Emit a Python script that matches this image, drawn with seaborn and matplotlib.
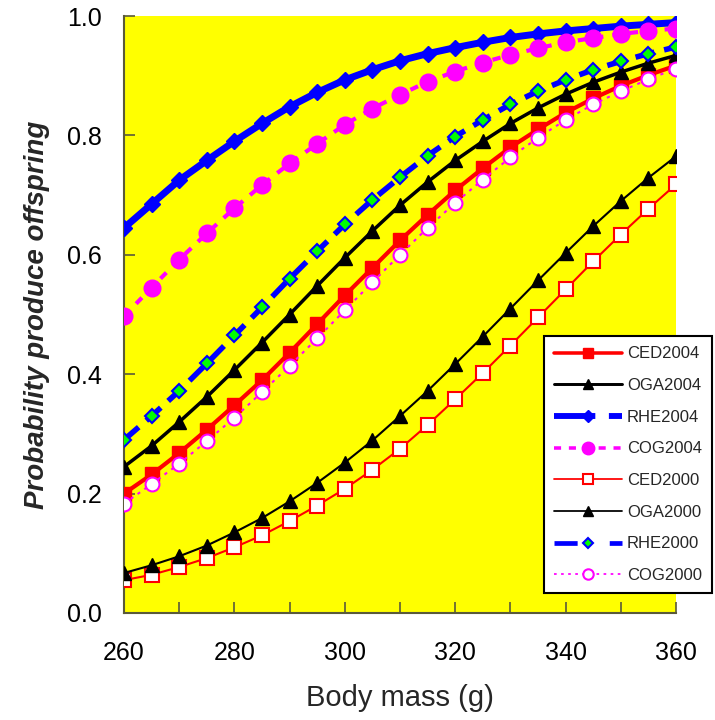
import numpy as np
import pandas as pd
import seaborn as sns
import matplotlib
matplotlib.use("Agg")
import matplotlib.pyplot as plt
from matplotlib.lines import Line2D

mass = [260, 265, 270, 275, 280, 285, 290, 295, 300, 305, 310,
        315, 320, 325, 330, 335, 340, 345, 350, 355, 360]

CED2004 = [0.200, 0.232, 0.268, 0.307, 0.348, 0.390, 0.436, 0.484, 0.532, 0.578, 0.624,
           0.667, 0.708, 0.745, 0.780, 0.810, 0.838, 0.862, 0.883, 0.901, 0.917]
OGA2004 = [0.245, 0.280, 0.320, 0.362, 0.407, 0.453, 0.500, 0.548, 0.595, 0.640, 0.683,
           0.722, 0.758, 0.790, 0.820, 0.846, 0.869, 0.889, 0.906, 0.921, 0.934]
RHE2004 = [0.645, 0.685, 0.725, 0.758, 0.790, 0.820, 0.848, 0.872, 0.893, 0.910, 0.925,
           0.937, 0.947, 0.956, 0.964, 0.970, 0.975, 0.979, 0.983, 0.986, 0.989]
COG2004 = [0.497, 0.545, 0.592, 0.636, 0.678, 0.717, 0.753, 0.786, 0.818, 0.845, 0.868,
           0.890, 0.907, 0.922, 0.935, 0.946, 0.956, 0.963, 0.970, 0.975, 0.979]
CED2000 = [0.055, 0.064, 0.077, 0.092, 0.110, 0.130, 0.154, 0.180, 0.208, 0.240, 0.275,
           0.315, 0.358, 0.402, 0.448, 0.495, 0.542, 0.589, 0.634, 0.677, 0.718]
OGA2000 = [0.067, 0.080, 0.095, 0.113, 0.135, 0.159, 0.187, 0.218, 0.252, 0.289, 0.330,
           0.372, 0.417, 0.463, 0.510, 0.557, 0.603, 0.648, 0.690, 0.729, 0.765]
RHE2000 = [0.290, 0.330, 0.372, 0.418, 0.465, 0.512, 0.560, 0.606, 0.651, 0.692, 0.730,
           0.766, 0.798, 0.826, 0.852, 0.874, 0.893, 0.910, 0.924, 0.937, 0.948]
COG2000 = [0.183, 0.216, 0.250, 0.288, 0.327, 0.370, 0.414, 0.460, 0.507, 0.554, 0.600,
           0.645, 0.687, 0.726, 0.763, 0.796, 0.826, 0.852, 0.874, 0.894, 0.912]

series_names = ["CED2004", "OGA2004", "RHE2004", "COG2004",
                "CED2000", "OGA2000", "RHE2000", "COG2000"]
series_vals = [CED2004, OGA2004, RHE2004, COG2004, CED2000, OGA2000, RHE2000, COG2000]

rows = []
for name, vals in zip(series_names, series_vals):
    for m, v in zip(mass, vals):
        rows.append({"mass": m, "prob": v, "series": name})
df = pd.DataFrame(rows)

sns.set_theme(style="white")
plt.rcParams["font.family"] = ["Liberation Sans", "DejaVu Sans"]

fig = plt.figure(figsize=(7.15, 7.2), dpi=100)
ax = fig.add_axes([124/715, 1 - 613/720, (676 - 124)/715, (613 - 16)/720])
ax.set_facecolor("#FFFF00")

styles = {
    "CED2004": dict(color="#FF0000", lw=3, ls="-", marker="s", ms=10, mfc="#FF0000", mec="#FF0000", mew=1),
    "OGA2004": dict(color="black", lw=2.5, ls="-", marker="^", ms=10, mfc="black", mec="black", mew=1),
    "RHE2004": dict(color="#0000FF", lw=5, ls="-", marker="D", ms=8, mfc="#0000FF", mec="#0000FF", mew=1),
    "COG2004": dict(color="#FF00FF", lw=3, ls=(0, (2, 2.2)), marker="o", ms=12, mfc="#FF00FF", mec="#FF00FF", mew=1),
    "CED2000": dict(color="#FF0000", lw=1.5, ls="-", marker="s", ms=10, mfc="white", mec="#FF0000", mew=1.5),
    "OGA2000": dict(color="black", lw=1.5, ls="-", marker="^", ms=10, mfc="black", mec="black", mew=1),
    "RHE2000": dict(color="#0000FF", lw=4, ls=(0, (3.5, 1.8)), marker="D", ms=7, mfc="#00FF00", mec="#0000FF", mew=1.5),
    "COG2000": dict(color="#FF00FF", lw=1.5, ls=(0, (1.5, 2.5)), marker="o", ms=10, mfc="white", mec="#FF00FF", mew=1.5),
}

for name in series_names:
    st = styles[name]
    sub = df[df["series"] == name]
    sns.lineplot(data=sub, x="mass", y="prob", ax=ax, color=st["color"], linewidth=st["lw"],
                 linestyle=st["ls"], marker=st["marker"], markersize=st["ms"],
                 markerfacecolor=st["mfc"], markeredgecolor=st["mec"], markeredgewidth=st["mew"],
                 legend=False, zorder=3)

ax.set_xlim(260, 360)
ax.set_ylim(0, 1)
ax.set_xticks(np.arange(260, 361, 10))
ax.set_xticklabels([str(v) if (v - 260) % 20 == 0 else "" for v in range(260, 361, 10)])
ax.set_yticks(np.arange(0, 1.01, 0.2))
ax.set_yticklabels(["0.0", "0.2", "0.4", "0.6", "0.8", "1.0"])
ax.tick_params(axis="both", direction="in", length=8, width=1.2, labelsize=18,
               colors="#5a5a3a", labelcolor="black", left=True, bottom=True)
ax.tick_params(axis="x", pad=20)
ax.tick_params(axis="y", pad=16)
for s in ["top", "right"]:
    ax.spines[s].set_visible(False)
for s in ["left", "bottom"]:
    ax.spines[s].set_color("#5a5a3a")
    ax.spines[s].set_linewidth(1.5)
ax.set_xlabel("Body mass (g)", fontsize=21, labelpad=14)
ax.set_ylabel("Probability produce offspring", fontsize=20, fontweight="bold",
              fontstyle="italic", labelpad=12)

legend_ls = {"RHE2004": (0, (7, 2.3)), "COG2004": (0, (2, 2.2)), "RHE2000": (0, (4.9, 6.8)),
             "COG2000": (0, (1.5, 2.5))}
handles = []
for name in series_names:
    st = styles[name]
    handles.append(Line2D([0], [0], color=st["color"], lw=st["lw"] * 0.85,
                          ls=legend_ls.get(name, st["ls"]), marker=st["marker"],
                          ms=st["ms"] * 0.75, mfc=st["mfc"], mec=st["mec"], mew=st["mew"]))
leg = fig.legend(handles, series_names, loc="lower right",
                 bbox_to_anchor=(712/715, 1 - 593/720), fontsize=12, borderaxespad=0,
                 frameon=True, fancybox=False, edgecolor="black", framealpha=1,
                 handlelength=4.1, labelspacing=1.0, borderpad=0.6, handletextpad=0.3)
leg.get_frame().set_linewidth(1.5)

fig.savefig("out.png", dpi=100, facecolor="white")
